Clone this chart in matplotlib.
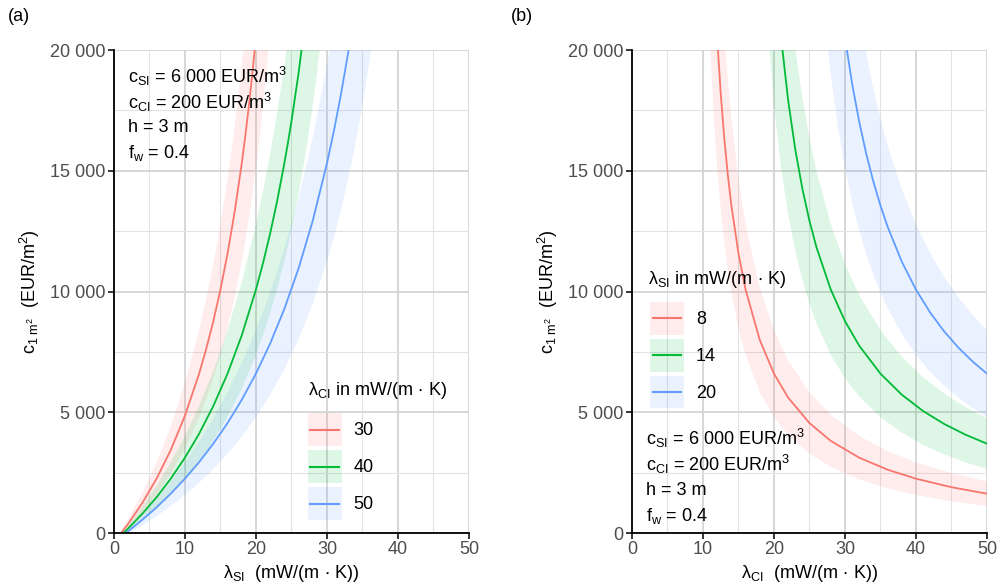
import numpy as np
import matplotlib.pyplot as plt
from matplotlib.patches import Rectangle
from matplotlib.lines import Line2D

plt.rcParams['font.family'] = ['Liberation Sans', 'DejaVu Sans']
plt.rcParams['mathtext.fontset'] = 'custom'
plt.rcParams['mathtext.rm'] = 'Liberation Sans'
plt.rcParams['mathtext.it'] = 'Liberation Sans'
plt.rcParams['mathtext.default'] = 'regular'

COLORS = ['#F8766D', '#00BA38', '#619CFF']

# (a) cost vs lambda_SI, one curve per lambda_CI
a_labels = ['30', '40', '50']
a_x = [
    [1, 2, 4, 6, 8, 10, 12, 13, 14, 15, 16, 17, 18, 18.5, 19, 19.5, 20, 20.5, 21, 21.5, 22],
    [1, 2, 4, 6, 8, 10, 12, 14, 16, 18, 20, 21, 22, 23, 24, 24.5, 25, 26, 27, 28, 28.5, 29],
    [1, 2, 4, 6, 8, 10, 12, 14, 16, 18, 20, 22, 24, 26, 28, 30, 31, 32, 33, 34, 35, 36, 37],
]
a_mid = [
    [0, 386, 1246, 2250, 3436, 4860, 6600, 7624, 8775, 10080, 11571, 13292, 15300, 16435, 17673,
     19029, 20520, 22168, 24000, 26047, 28350],
    [-92, 189, 800, 1482, 2250, 3120, 4114, 5262, 6600, 8182, 10080, 11179, 12400, 13765, 15300,
     16142, 17040, 19029, 21323, 24000, 25500, 27164],
    [-147, 75, 548, 1064, 1629, 2250, 2937, 3700, 4553, 5513, 6600, 7843, 9277, 10950, 12927, 15300,
     16674, 18200, 19906, 21825, 24000, 26486, 29354],
]
a_lo = [
    [-93, 193, 831, 1575, 2455, 3510, 4800, 5559, 6413, 7380, 8486, 9762, 11250, 12091, 13009,
     14014, 15120, 16342, 17700, 19218, 20925],
    [-162, 47, 500, 1006, 1575, 2220, 2957, 3808, 4800, 5973, 7380, 8195, 9100, 10112, 11250,
     11874, 12540, 14014, 15715, 17700, 18822, 20045],
    [-202, -38, 313, 695, 1114, 1575, 2084, 2650, 3282, 3994, 4800, 5721, 6785, 8025, 9491, 11250,
     12268, 13400, 14665, 16088, 17700, 19543, 21669],
]
a_hi = [
    [93, 579, 1662, 2925, 4418, 6210, 8400, 9688, 11138, 12780, 14657, 16823, 19350, 20778, 22336,
     24043, 25920, 27995, 30300, 32876, 35775],
    [-23, 332, 1100, 1959, 2925, 4020, 5271, 6715, 8400, 10391, 12780, 14163, 15700, 17418, 19350,
     20410, 21540, 24043, 26931, 30300, 32200, 34282],
    [-92, 188, 783, 1432, 2143, 2925, 3789, 4750, 5824, 7031, 8400, 9964, 11769, 13875, 16364, 19350,
     21079, 23000, 25147, 27563, 30300, 33429, 37038],
]

# (b) cost vs lambda_CI, one curve per lambda_SI
b_labels = ['8', '14', '20']
b_x = [
    [10, 11, 11.5, 12, 12.5, 13, 13.5, 14, 15, 16, 18, 20, 22, 25, 28, 32, 36, 40, 45, 50],
    [18, 19, 20, 21, 22, 23, 24, 25, 26, 28, 30, 32, 35, 38, 41, 44, 47, 50],
    [26, 27, 28, 29, 30, 31, 32, 33, 34, 35, 36, 38, 40, 42, 44, 46, 48, 50],
]
b_mid = [
    [41400, 27480, 23503, 20520, 18200, 16344, 14825, 13560, 11571, 10080, 7992, 6600, 5606, 4553, 3816, 3120, 2623, 2250, 1897, 1629],
    [36180, 28872, 24000, 20520, 17910, 15880, 14256, 12927, 11820, 10080, 8775, 7760, 6600, 5730, 5053, 4512, 4069, 3700],
    [34440, 29469, 25740, 22840, 20520, 18622, 17040, 15702, 14554, 13560, 12690, 11240, 10080, 9131, 8340, 7671, 7097, 6600],
]
b_lo = [
    [30600, 20280, 17331, 15120, 13400, 12024, 10898, 9960, 8486, 7380, 5832, 4800, 4063, 3282, 2736, 2220, 1851, 1575, 1314, 1114],
    [26730, 21312, 17700, 15120, 13185, 11680, 10476, 9491, 8670, 7380, 6413, 5660, 4800, 4155, 3653, 3252, 2924, 2650],
    [25440, 21754, 18990, 16840, 15120, 13713, 12540, 11548, 10697, 9960, 9315, 8240, 7380, 6676, 6090, 5594, 5169, 4800],
]
b_hi = [
    [52200, 34680, 29674, 25920, 23000, 20664, 18753, 17160, 14657, 12780, 10152, 8400, 7149, 5824, 4896, 4020, 3394, 2925, 2481, 2143],
    [45630, 36432, 30300, 25920, 22635, 20080, 18036, 16364, 14970, 12780, 11138, 9860, 8400, 7305, 6453, 5772, 5215, 4750],
    [43440, 37183, 32490, 28840, 25920, 23531, 21540, 19855, 18411, 17160, 16065, 14240, 12780, 11585, 10590, 9748, 9026, 8400],
]

note = ['c$_{SI}$ = 6 000 EUR/m$^3$', 'c$_{CI}$ = 200 EUR/m$^3$', 'h = 3 m', 'f$_w$ = 0.4']
unit = 'mW/(m$\\,\\cdot\\,$K)'


class KeyHandler:
    # ribbon square with the line drawn through its middle, like ggplot keys
    def __init__(self, color):
        self.color = color

    def legend_artist(self, legend, orig_handle, fontsize, handlebox):
        x0, y0 = -handlebox.xdescent, -handlebox.ydescent
        w, h = handlebox.width, handlebox.height
        rect = Rectangle((x0, y0), w, h, facecolor=self.color, alpha=0.13, lw=0,
                         transform=handlebox.get_transform())
        line = Line2D([x0 + 0.08 * w, x0 + 0.92 * w], [y0 + h / 2, y0 + h / 2],
                      color=self.color, lw=1.5, transform=handlebox.get_transform())
        handlebox.add_artist(rect)
        handlebox.add_artist(line)
        return rect


fig = plt.figure(figsize=(9.97, 5.88), dpi=100)
ax1 = fig.add_axes([0.1143, 0.0935, 0.356, 0.8214])
ax2 = fig.add_axes([0.6339, 0.0935, 0.356, 0.8214])


def style(ax, xlab):
    ax.set_xlim(0, 50)
    ax.set_ylim(0, 20000)
    ax.set_xticks([0, 10, 20, 30, 40, 50])
    ax.set_xticks([5, 15, 25, 35, 45], minor=True)
    ax.set_yticks([0, 5000, 10000, 15000, 20000])
    ax.set_yticks([2500, 7500, 12500, 17500], minor=True)
    ax.set_yticklabels(['0', '5 000', '10 000', '15 000', '20 000'])
    ax.grid(which='major', color='#d4d4d4', lw=1.3)
    ax.grid(which='minor', color='#e3e3e3', lw=0.8)
    ax.set_axisbelow(True)
    for s in ['top', 'right']:
        ax.spines[s].set_visible(False)
    for s in ['left', 'bottom']:
        ax.spines[s].set_linewidth(1.3)
        ax.spines[s].set_color('black')
    ax.tick_params(which='major', length=4, width=1.1, color='black', labelsize=13,
                   labelcolor='#4d4d4d', pad=2)
    ax.tick_params(which='minor', length=0)
    ax.set_xlabel(xlab, fontsize=13, labelpad=3)
    ax.set_ylabel('c$_{1\\ m^2}$  (EUR/m$^2$)', fontsize=13, labelpad=6)


def draw(ax, xs, mids, los, his, labels, title, title_xy, anchor):
    handles = []
    hmap = {}
    for i in range(3):
        x = np.array(xs[i])
        ax.fill_between(x, los[i], his[i], color=COLORS[i], alpha=0.13, lw=0)
        ln, = ax.plot(x, mids[i], color=COLORS[i], lw=1.3)
        handles.append(ln)
        hmap[ln] = KeyHandler(COLORS[i])
    ax.legend(handles, labels, loc='upper left', bbox_to_anchor=anchor,
              frameon=False, fontsize=13, borderpad=0,
              handlelength=1.88, handleheight=2.43, labelspacing=0.22,
              handletextpad=0.65, borderaxespad=0, handler_map=hmap)
    ax.text(title_xy[0], title_xy[1], title, fontsize=13, va='center', ha='left')


style(ax1, '$\\lambda_{SI}$  (' + unit + ')')
style(ax2, '$\\lambda_{CI}$  (' + unit + ')')

draw(ax1, a_x, a_mid, a_lo, a_hi, a_labels, '$\\lambda_{CI}$ in ' + unit, (27.3, 5900), (0.546, 0.248))
draw(ax2, b_x, b_mid, b_lo, b_hi, b_labels, '$\\lambda_{SI}$ in ' + unit, (2.3, 10480), (0.051, 0.479))

for k, t in enumerate(note):
    ax1.text(2.0, 18900 - k * 1060, t, fontsize=13, va='center', ha='left')
    ax2.text(2.0, 3900 - k * 1060, t, fontsize=13, va='center', ha='left')

fig.text(0.008, 0.965, '(a)', fontsize=13)
fig.text(0.512, 0.965, '(b)', fontsize=13)

fig.savefig('out.png', dpi=100)
